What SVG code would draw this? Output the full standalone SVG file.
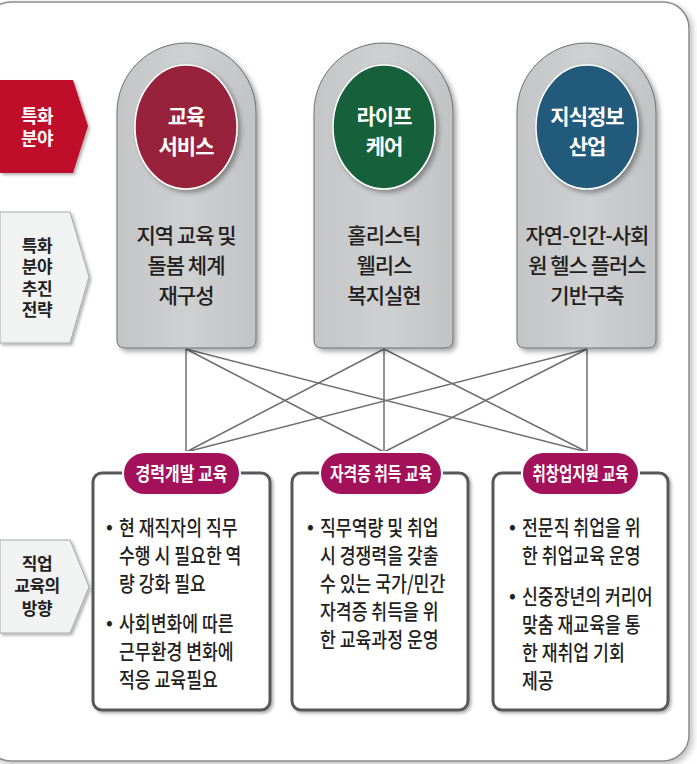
<svg xmlns="http://www.w3.org/2000/svg" width="697" height="764" viewBox="0 0 697 764">
<defs>
  <filter id="sh" x="-20%" y="-20%" width="140%" height="140%">
    <feDropShadow dx="3" dy="3" stdDeviation="2.5" flood-color="#000" flood-opacity="0.35"/>
  </filter>
  <filter id="shs" x="-20%" y="-20%" width="140%" height="140%">
    <feDropShadow dx="2" dy="2" stdDeviation="1.5" flood-color="#000" flood-opacity="0.3"/>
  </filter>
  <filter id="shf" x="-5%" y="-5%" width="110%" height="110%">
    <feDropShadow dx="3" dy="3" stdDeviation="3" flood-color="#000" flood-opacity="0.25"/>
  </filter>
  <linearGradient id="archg" x1="0" y1="0" x2="1" y2="0">
    <stop offset="0" stop-color="#c4c5c6"/>
    <stop offset="0.5" stop-color="#cfd0d1"/>
    <stop offset="1" stop-color="#c2c3c4"/>
  </linearGradient>
</defs>
<style>
  text { font-family: "Noto Sans CJK KR", "Noto Sans", sans-serif; }
  .lbl { font-size: 17px; font-weight: 700; text-anchor: middle; fill: #231f20; letter-spacing: -0.5px; }
  .lblw { font-size: 18px; font-weight: 700; text-anchor: middle; fill: #ffffff; letter-spacing: -0.5px; }
  .arch { fill: url(#archg); stroke: #6d6e71; stroke-width: 1; }
  .circ { stroke: #ffffff; stroke-width: 1.5; }
  .ctxt { font-size: 21px; font-weight: 700; fill: #ffffff; text-anchor: middle; letter-spacing: -1px; }
  .atxt { font-size: 21px; font-weight: 500; fill: #231f20; text-anchor: middle; letter-spacing: -1px; }
  .box { fill: #ffffff; stroke: #58595b; stroke-width: 3; }
  .pill { fill: #a3115b; stroke: #ffffff; stroke-width: 2; }
  .ptxt { font-size: 19px; font-weight: 700; fill: #ffffff; text-anchor: middle; }
  .btxt { font-size: 21px; font-weight: 500; fill: #231f20; }
  .bul { font-size: 18px; font-weight: 700; fill: #231f20; }
  .conn line { stroke: #6d6e71; stroke-width: 1.5; }
</style>

<!-- outer frame -->
<rect x="-15" y="2" width="704" height="759" rx="26" fill="#ffffff" stroke="#8a8b8d" stroke-width="1.5" filter="url(#shf)"/>

<!-- left labels -->
<g id="label-field">
  <polygon points="0,80 73,80 88,126 73,173 0,173" fill="#c0112b" filter="url(#shs)"/>
  <text class="lblw" x="37" y="123">특화</text>
  <text class="lblw" x="37" y="145">분야</text>
</g>
<g id="label-strategy">
  <polygon points="0,212 70,212 89,277 70,343 0,343" fill="#f1f2f2" stroke="#a7a9ac" stroke-width="1" filter="url(#shs)"/>
  <text class="lbl" x="37" y="252">특화</text>
  <text class="lbl" x="37" y="273">분야</text>
  <text class="lbl" x="37" y="295">추진</text>
  <text class="lbl" x="37" y="316">전략</text>
</g>
<g id="label-direction">
  <polygon points="0,540 70,540 89,587 70,633 0,633" fill="#f1f2f2" stroke="#a7a9ac" stroke-width="1" filter="url(#shs)"/>
  <text class="lbl" x="37" y="570">직업</text>
  <text class="lbl" x="37" y="592">교육의</text>
  <text class="lbl" x="37" y="615">방향</text>
</g>

<!-- connectors -->
<g id="connectors" class="conn">
  <line x1="186" y1="349" x2="186" y2="452"/>
  <line x1="186" y1="349" x2="384" y2="452"/>
  <line x1="186" y1="349" x2="587" y2="452"/>
  <line x1="384" y1="349" x2="186" y2="452"/>
  <line x1="384" y1="349" x2="384" y2="452"/>
  <line x1="384" y1="349" x2="587" y2="452"/>
  <line x1="587" y1="349" x2="186" y2="452"/>
  <line x1="587" y1="349" x2="384" y2="452"/>
  <line x1="587" y1="349" x2="587" y2="452"/>
</g>

<!-- top arches -->
<g id="edu-service">
  <path class="arch" filter="url(#sh)" d="M117,340 V112.5 A69.5,69.5 0 0 1 256,112.5 V340 Q256,348 248,348 H125 Q117,348 117,340 Z"/>
  <ellipse class="circ" cx="186" cy="127" rx="51" ry="62" fill="#98213a" filter="url(#sh)"/>
  <text class="ctxt" x="186" y="124">교육</text>
  <text class="ctxt" x="186" y="154">서비스</text>
  <text class="atxt" x="186" y="243">지역 교육 및</text>
  <text class="atxt" x="186" y="273">돌봄 체계</text>
  <text class="atxt" x="186" y="303">재구성</text>
</g>
<g id="life-care">
  <path class="arch" filter="url(#sh)" d="M314,340 V112.5 A69.5,69.5 0 0 1 453,112.5 V340 Q453,348 445,348 H322 Q314,348 314,340 Z"/>
  <ellipse class="circ" cx="384" cy="127" rx="51" ry="62" fill="#17603a" filter="url(#sh)"/>
  <text class="ctxt" x="384" y="124">라이프</text>
  <text class="ctxt" x="384" y="154">케어</text>
  <text class="atxt" x="384" y="243">홀리스틱</text>
  <text class="atxt" x="384" y="273">웰리스</text>
  <text class="atxt" x="384" y="303">복지실현</text>
</g>
<g id="knowledge-info">
  <path class="arch" filter="url(#sh)" d="M517,340 V112.5 A69.5,69.5 0 0 1 656,112.5 V340 Q656,348 648,348 H525 Q517,348 517,340 Z"/>
  <ellipse class="circ" cx="587" cy="127" rx="51" ry="62" fill="#235a7c" filter="url(#sh)"/>
  <text class="ctxt" x="587" y="124">지식정보</text>
  <text class="ctxt" x="587" y="154">산업</text>
  <text class="atxt" x="587" y="243">자연-인간-사회</text>
  <text class="atxt" x="587" y="273">원 헬스 플러스</text>
  <text class="atxt" x="587" y="303">기반구축</text>
</g>

<!-- bottom boxes -->
<g id="career-dev">
  <rect class="box" x="93" y="473" width="177" height="237" rx="9" filter="url(#shs)"/>
  <rect class="pill" x="123" y="452" width="117" height="43" rx="21.5"/>
  <text class="ptxt" x="181.5" y="481" textLength="92" lengthAdjust="spacingAndGlyphs">경력개발 교육</text>
  <text class="bul" x="106" y="533">•</text>
  <text class="bul" x="106" y="629">•</text>
  <g transform="translate(119,0) scale(0.82,1)">
    <text class="btxt" x="0" y="535">현 재직자의 직무</text>
    <text class="btxt" x="0" y="563">수행 시 필요한 역</text>
    <text class="btxt" x="0" y="591">량 강화 필요</text>
    <text class="btxt" x="0" y="631">사회변화에 따른</text>
    <text class="btxt" x="0" y="659">근무환경 변화에</text>
    <text class="btxt" x="0" y="687">적응 교육필요</text>
  </g>
</g>
<g id="certificate">
  <rect class="box" x="292" y="473" width="176" height="237" rx="9" filter="url(#shs)"/>
  <rect class="pill" x="320" y="452" width="122" height="43" rx="21.5"/>
  <text class="ptxt" x="381" y="481" textLength="102" lengthAdjust="spacingAndGlyphs">자격증 취득 교육</text>
  <text class="bul" x="307" y="533">•</text>
  <g transform="translate(320,0) scale(0.82,1)">
    <text class="btxt" x="0" y="535">직무역량 및 취업</text>
    <text class="btxt" x="0" y="563">시 경쟁력을 갖출</text>
    <text class="btxt" x="0" y="591">수 있는 국가/민간</text>
    <text class="btxt" x="0" y="619">자격증 취득을 위</text>
    <text class="btxt" x="0" y="647">한 교육과정 운영</text>
  </g>
</g>
<g id="employment">
  <rect class="box" x="493" y="473" width="175" height="237" rx="9" filter="url(#shs)"/>
  <rect class="pill" x="522" y="452" width="117" height="43" rx="21.5"/>
  <text class="ptxt" x="580.5" y="481" textLength="96" lengthAdjust="spacingAndGlyphs">취창업지원 교육</text>
  <text class="bul" x="509" y="533">•</text>
  <text class="bul" x="509" y="602">•</text>
  <g transform="translate(522,0) scale(0.82,1)">
    <text class="btxt" x="0" y="535">전문직 취업을 위</text>
    <text class="btxt" x="0" y="563">한 취업교육 운영</text>
    <text class="btxt" x="0" y="604">신중장년의 커리어</text>
    <text class="btxt" x="0" y="632">맞춤 재교육을 통</text>
    <text class="btxt" x="0" y="660">한 재취업 기회</text>
    <text class="btxt" x="0" y="688">제공</text>
  </g>
</g>
</svg>
